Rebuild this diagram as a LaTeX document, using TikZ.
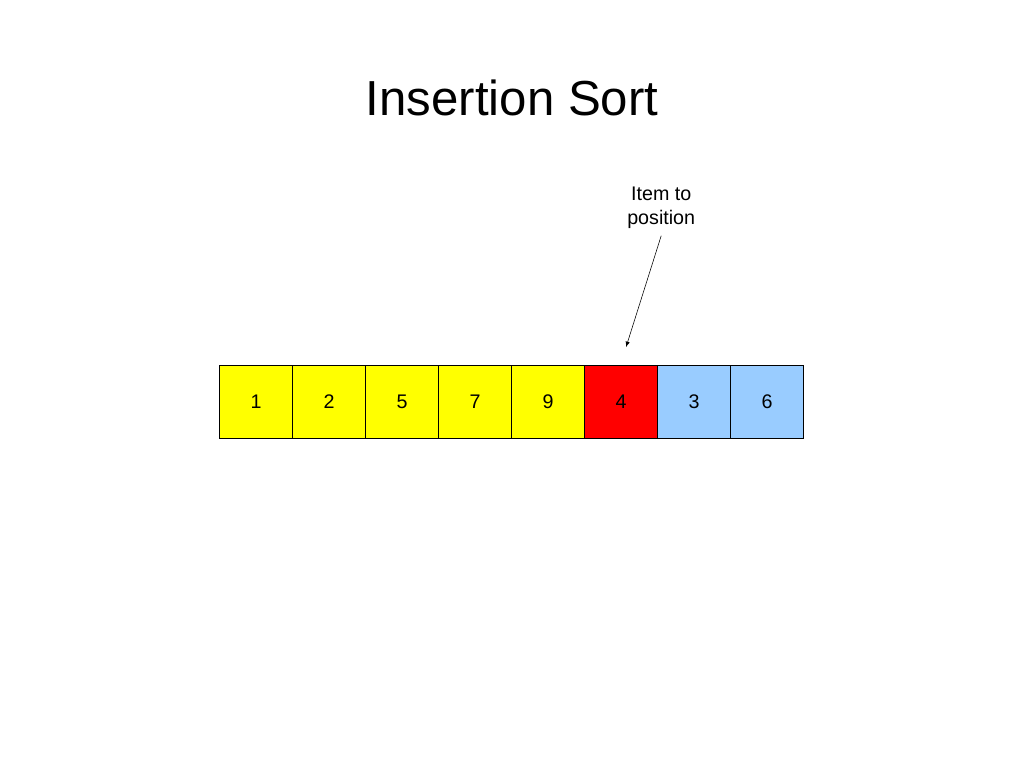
\documentclass[tikz,border=0pt]{standalone}
\usepackage{fontspec}
\setmainfont{Liberation Sans}
\usetikzlibrary{positioning}
\definecolor{sortyellow}{RGB}{255,255,0}
\definecolor{sortred}{RGB}{255,0,0}
\definecolor{sortblue}{RGB}{153,204,255}
\tikzset{
    cell/.style={draw=black, minimum width=1.825cm, minimum height=1.825cm, inner sep=0pt, font=\fontsize{14}{16}\selectfont, anchor=center}
}
\begin{document}
\begin{tikzpicture}
        \useasboundingbox (0,0) rectangle (25.6,-19.2);

        \node (title) at (12.8,-2.45) {\fontsize{35}{40}\selectfont Insertion Sort};

        \foreach \v/\c [count=\i] in {1/sortyellow, 2/sortyellow, 5/sortyellow, 7/sortyellow, 9/sortyellow, 4/sortred, 3/sortblue, 6/sortblue}
        {
            \node [cell, fill=\c] (c\i) at ({6.4+(\i-1)*1.825}, -10.05) {\v};
        }

        \node [align=center, font=\fontsize{14}{17}\selectfont] (item) at (16.53,-5.2) {Item to\\position};
        \coordinate (tip) at (15.65,-8.68);
        \draw [-latex] (item.south) ++(0,-0.05) -- (tip);
    \end{tikzpicture}
\end{document}
